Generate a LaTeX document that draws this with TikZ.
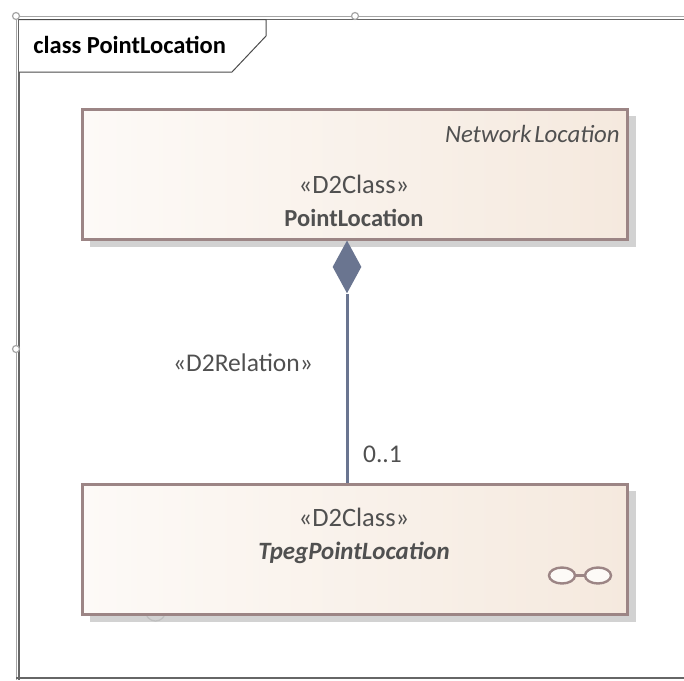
\documentclass[tikz,border=0pt]{standalone}
\usepackage{fontspec}
\setmainfont{Carlito}
\usetikzlibrary{shapes.geometric}
\definecolor{boxline}{HTML}{9C8585}
\definecolor{boxleft}{HTML}{FDFAF7}
\definecolor{boxright}{HTML}{F5E9DE}
\definecolor{boxshadow}{HTML}{D2D2D2}
\definecolor{relline}{HTML}{6A7590}
\definecolor{labeltext}{HTML}{505050}
\definecolor{handleline}{HTML}{A6A6A6}
\begin{document}
\begin{tikzpicture}[x=1pt,y=-1pt,
  thick,class box/.style={rectangle,draw=boxline,line width=2.6pt,left color=boxleft,right color=boxright,
    minimum width=545pt,minimum height=130pt,inner sep=0pt},
  shadow box/.style={rectangle,fill=boxshadow,minimum width=546pt,minimum height=131pt,inner sep=0pt},
  stereo node/.style={font=\fontsize{26.5}{30}\selectfont,text=labeltext},
  rel node/.style={font=\fontsize{25.5}{30}\selectfont,text=labeltext},
  name node/.style={font=\bfseries\fontsize{24.5}{28}\selectfont,text=labeltext},
  handle node/.style={circle,draw=handleline,fill=white,line width=1.2pt,minimum size=7pt,inner sep=0pt},
  glass node/.style={ellipse,draw=boxline,fill=boxleft,line width=2.4pt,minimum width=26pt,minimum height=16pt,inner sep=0pt}]

  \useasboundingbox (0,0) rectangle (684,680);

  \draw[handleline,line width=1.2pt] (16.5,16.5) -- (684,16.5);
  \draw[handleline,line width=1.2pt] (16.5,16.5) -- (16.5,680);
  \draw[black!60,line width=1.6pt] (19,19.5) -- (684,19.5);
  \draw[black!60,line width=1.6pt] (19,19) -- (19,680);
  \draw[black!60,line width=1.6pt] (16,678) -- (684,678);
  \draw[black!70,line width=1pt,fill=white] (19,19.5) -- (266,19.5) -- (266,36) -- (232,72) -- (19,72);

  \node[handle node] (h1) at (16,16) {};
  \node[handle node] (h2) at (355,16) {};
  \node[handle node] (h3) at (16,349) {};
  \node[anchor=west,inner sep=0pt,font=\bfseries\fontsize{24.5}{28}\selectfont] (frame) at (33,45) {class PointLocation};

  \node[shadow box] (pointshadow) at (363,181.5) {};
  \node[shadow box] (tpegshadow) at (363,556.5) {};
  \node[handle node,minimum size=20pt,draw=black!25,fill=none] (h4) at (155.5,611) {};
  \node[class box] (point) at (355,174.5) {};
  \node[class box] (tpeg) at (355,549.5) {};

  \node[anchor=east,inner sep=0pt,font=\itshape\fontsize{24.8}{28}\selectfont,text=labeltext] (super) at (620,134) {Network\hspace{3pt}Location};
  \node[stereo node] (pointstereo) at (354,184) {«D2Class»};
  \node[name node] (pointname) at (354,218) {PointLocation};
  \node[stereo node] (tpegstereo) at (354,517) {«D2Class»};
  \node[name node,font=\bfseries\itshape\fontsize{24.9}{28}\selectfont] (tpegname) at (354,553) {TpegPointLocation};

  \node[glass node] (g1) at (562,575.5) {};
  \node[glass node] (g2) at (598,575.5) {};
  \draw[boxline,line width=2.4pt] (g1) -- (g2);

  \node[diamond,fill=relline,anchor=north,minimum width=29pt,minimum height=53pt,inner sep=0pt] (whole) at (347,240) {};
  \draw[relline,line width=3pt] (whole.south) -- (tpeg.north -| whole.south);

  \node[rel node] (rel) at (243,363) {«D2Relation»};
  \node[rel node,xshift=-0.5pt] (card) at (383,454) {0..1};
\end{tikzpicture}
\end{document}
